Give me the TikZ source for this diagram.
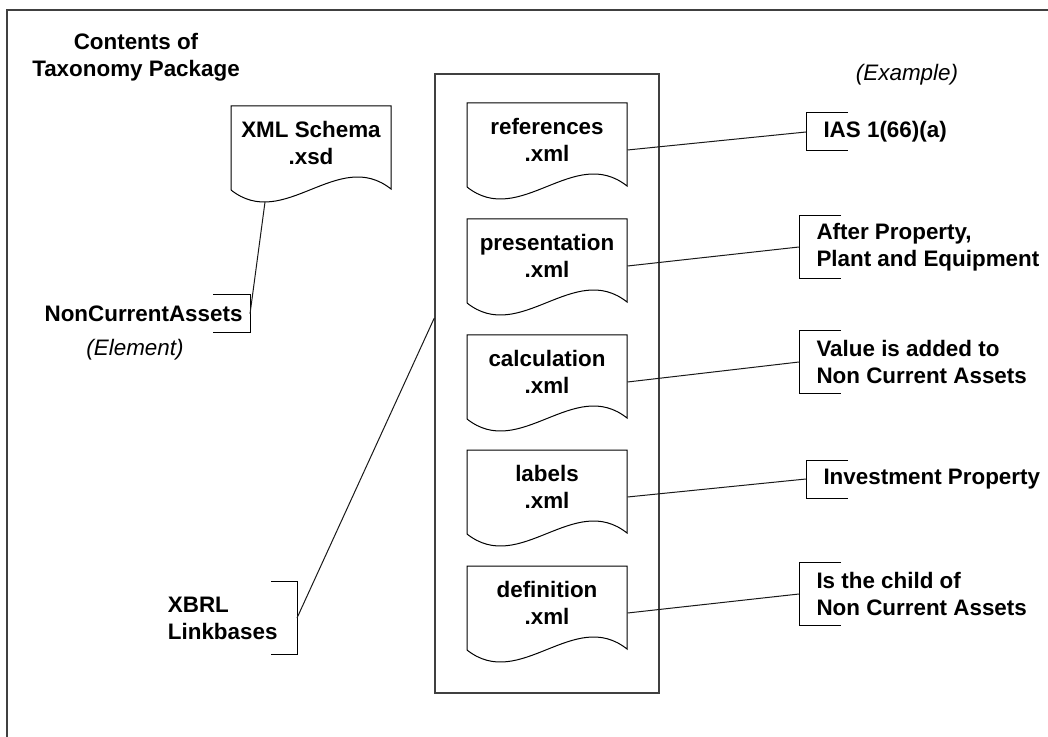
\documentclass[tikz,border=0pt]{standalone}
\usepackage{fontspec}
\setmainfont{Liberation Sans}

\begin{document}
\begin{tikzpicture}[x=0.5pt,y=-0.5pt,line width=0.5pt,
  every node/.style={font=\fontsize{11.2}{13.5}\selectfont\bfseries},
  remark/.style={font=\fontsize{11.2}{13.5}\selectfont\itshape},
  frame/.style={line width=0.7pt,black!75},
  docfile/.style={align=center,minimum width=80pt,inner sep=0pt},
  note/.style={align=left,inner ysep=0pt,inner xsep=8.5pt,minimum height=18.5pt},
  link/.style={black!90}]
  \useasboundingbox (0,0) rectangle (1048,737);
  % marco exterior
  \draw[frame] (7,737) -- (7,10) -- (1048,10);
  \node[align=center] (title) at (136,57) {Contents of\\Taxonomy Package};
  \node[remark] (example) at (907,75) {(Example)};
  % esquema
  \node[docfile] (xsd) at (311,143) {XML Schema\\.xsd};
  \draw (xsd.center) ++(-80,47) -- ++(0,-84) -- ++(160,0) -- ++(0,83)
    .. controls +(-53,-42) and +(53,42) .. ++(-160,1);
  \coordinate (xsdwave) at ([shift={(-46,59)}]xsd.center);
  \node[note,anchor=east,inner xsep=3.5pt] (nca) at (250,314) {NonCurrentAssets};
  \draw (nca.north east) ++(-37,0) -- (nca.north east) -- (nca.south east) -- ++(-37,0);
  \node[remark] (element) at (135,350) {(Element)};
  \draw[link] (xsdwave) -- (nca.east);
  % linkbases
  \node[draw,frame,minimum width=112pt,minimum height=309.5pt,inner sep=0pt] (lnk) at (547,383.5) {};
  \foreach \n/\t/\y in {ref/references/140,pre/presentation/256,cal/calculation/372,lab/labels/487,dfn/definition/603} {
    \node[docfile] (\n) at (547,\y) {\t\\.xml};
    \draw (\n.center) ++(-80,47) -- ++(0,-84) -- ++(160,0) -- ++(0,83)
      .. controls +(-53,-42) and +(53,42) .. ++(-160,1);
  }
  \node[note,anchor=east,inner xsep=9.5pt,minimum height=36pt] (xbrl) at (297,618) {XBRL\\Linkbases};
  \draw (xbrl.north east) ++(-26,0) -- (xbrl.north east) -- (xbrl.south east) -- ++(-26,0);
  \draw[link] (xbrl.east) -- ([yshift=32.75pt]lnk.west);
  % ejemplos
  \node[note,anchor=west] (ias) at (806,132) {IAS 1(66)(a)};
  \node[note,anchor=west,minimum height=31pt] (ppe) at (799,247) {After Property,\\Plant and Equipment};
  \node[note,anchor=west,minimum height=31pt] (added) at (799,362) {Value is added to\\Non Current Assets};
  \node[note,anchor=west] (inv) at (806,479) {Investment Property};
  \node[note,anchor=west,minimum height=31pt] (child) at (799,594) {Is the child of\\Non Current Assets};
  \foreach \n in {ias,ppe,added,inv,child}
    \draw (\n.north west) ++(42,0) -- (\n.north west) -- (\n.south west) -- ++(42,0);
  \draw[link] ([yshift=-5pt]ref.east) -- (ias.west);
  \draw[link] ([yshift=-5pt]pre.east) -- (ppe.west);
  \draw[link] ([yshift=-5pt]cal.east) -- (added.west);
  \draw[link] ([yshift=-5pt]lab.east) -- (inv.west);
  \draw[link] ([yshift=-5pt]dfn.east) -- (child.west);
\end{tikzpicture}
\end{document}
